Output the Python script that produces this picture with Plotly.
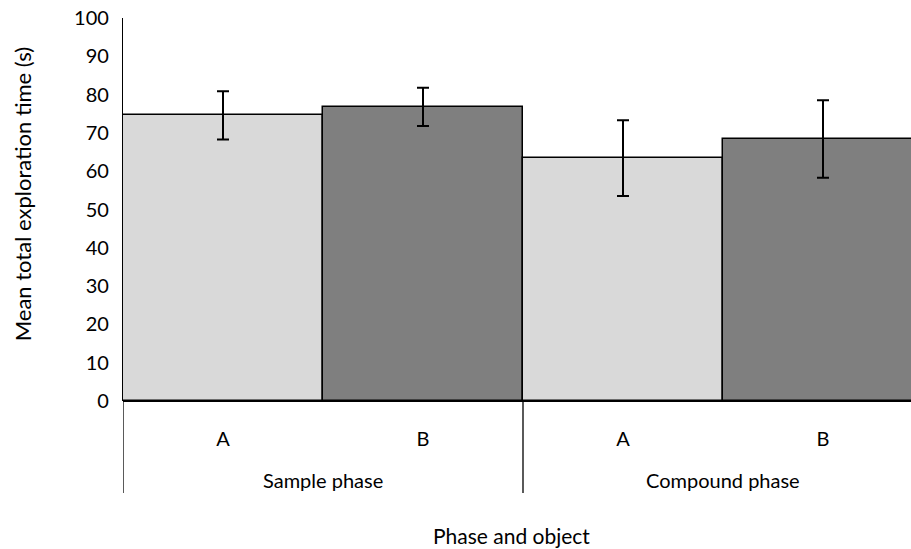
import plotly.graph_objects as go

phases = ["Sample phase", "Sample phase", "Compound phase", "Compound phase"]
objects = ["A", "B", "A", "B"]
means = [74.6, 76.8, 63.4, 68.4]
errors = [6.3, 5.0, 9.9, 10.1]
colors = ["#d9d9d9", "#7f7f7f", "#d9d9d9", "#7f7f7f"]
group_names = ["Sample phase", "Compound phase"]
yticks = [0, 10, 20, 30, 40, 50, 60, 70, 80, 90, 100]

FONT = "Lato"
xs = list(range(len(means)))

fig = go.Figure()
fig.add_trace(go.Bar(
    x=xs, y=means,
    marker=dict(color=colors, line=dict(color="black", width=1.5)),
    error_y=dict(type="data", array=errors, color="black", thickness=2, width=6),
    showlegend=False,
))

# group dividers and labels
ng = len(group_names)
per = len(means) // ng
for g, name in enumerate(group_names):
    left = g * per - 0.5
    fig.add_shape(type="line", xref="x", yref="paper", x0=left, x1=left, y0=0, y1=-0.24,
                  line=dict(color="black", width=1.3))
    fig.add_annotation(xref="x", yref="paper", x=left + per / 2, y=-0.205, text=name,
                       showarrow=False, font=dict(family=FONT, size=20, color="black"),
                       yanchor="middle")

fig.add_annotation(xref="paper", yref="paper", x=0.493, y=-0.35, text="Phase and object",
                   showarrow=False, font=dict(family=FONT, size=21, color="black"),
                   yanchor="middle")
fig.add_annotation(xref="paper", yref="paper", x=-0.128, y=0.54, textangle=-90,
                   text="Mean total exploration time (s)", showarrow=False,
                   font=dict(family=FONT, size=22, color="black"), xanchor="center", yanchor="middle")

fig.update_layout(
    width=911, height=549,
    margin=dict(l=123, r=0, t=18, b=148),
    plot_bgcolor="white", paper_bgcolor="white",
    bargap=0,
    font=dict(family=FONT, size=20, color="black"),
    xaxis=dict(range=[-0.5, 3.44], tickvals=xs, ticktext=objects, showgrid=False,
               zeroline=False, showline=False, ticks="", ticklabelstandoff=24,
               tickfont=dict(size=20)),
    yaxis=dict(range=[0, 100], tickvals=yticks, showgrid=False, zeroline=True,
               zerolinecolor="black", zerolinewidth=2, showline=True, linecolor="black",
               linewidth=1.3, ticks="", ticklabelstandoff=9, tickfont=dict(size=20)),
)
fig.write_html("out.html")
